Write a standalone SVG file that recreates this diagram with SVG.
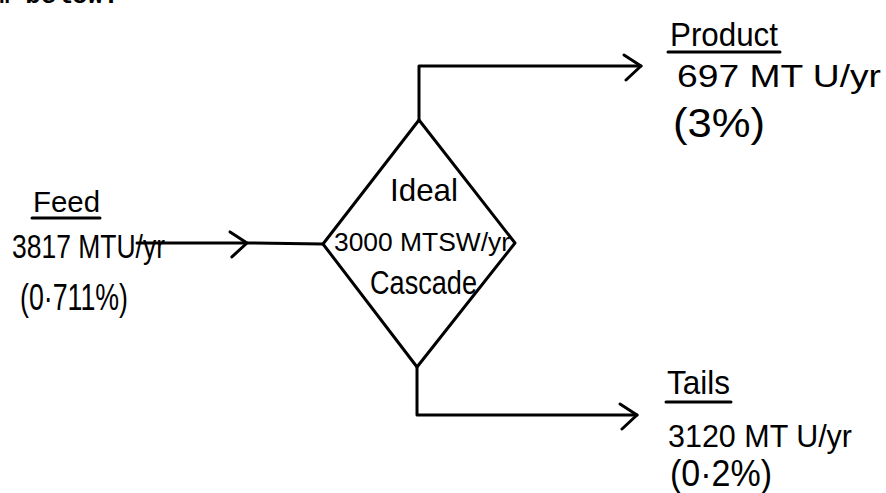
<svg xmlns="http://www.w3.org/2000/svg" width="886" height="493" viewBox="0 0 886 493">
<style>
  .ln { fill: none; stroke: #000; stroke-width: 3; stroke-linecap: round; stroke-linejoin: round; }
  .t { font-family: "Liberation Sans", "DejaVu Sans", sans-serif; fill: #000; }
  .tw { font-family: "Liberation Mono", monospace; font-weight: bold; fill: #000; }
</style>
<defs>
  <marker id="chev" viewBox="-20 -16 24 32" markerWidth="24" markerHeight="32" refX="0" refY="0" orient="auto" markerUnits="userSpaceOnUse">
    <path d="M-17,-11 L0,0 L-15,14" fill="none" stroke="#000" stroke-width="3" stroke-linecap="round" stroke-linejoin="round"/>
  </marker>
</defs>
<rect width="886" height="493" fill="#fff"/>
<text class="tw" x="-6" y="3" font-size="26">m below.</text>

<g id="connectors">
  <polyline class="ln" points="137,243 247,243 323,244" marker-mid="url(#chev)"/>
  <polyline class="ln" points="419,120 419,66 641,66" marker-end="url(#chev)"/>
  <polyline class="ln" points="417,367 417,415 637,415" marker-end="url(#chev)"/>
</g>

<g id="cascade">
  <polygon class="ln" points="419,120 515,243 417,367 323,244"/>
  <text class="t" x="390" y="201" font-size="32" textLength="68" lengthAdjust="spacingAndGlyphs">Ideal</text>
  <text class="t" x="334" y="251" font-size="26" textLength="176" lengthAdjust="spacingAndGlyphs">3000 MTSW/yr</text>
  <text class="t" x="370" y="294" font-size="34" textLength="107" lengthAdjust="spacingAndGlyphs">Cascade</text>
</g>

<g id="feed">
  <text class="t" x="33" y="212" font-size="30" textLength="67" lengthAdjust="spacingAndGlyphs">Feed</text>
  <line class="ln" x1="32" y1="218" x2="100" y2="218" stroke-width="2.5"/>
  <text class="t" x="12" y="258" font-size="33" textLength="153" lengthAdjust="spacingAndGlyphs">3817 MTU/yr</text>
  <text class="t" x="20" y="310" font-size="36" textLength="108" lengthAdjust="spacingAndGlyphs">(0·711%)</text>
</g>

<g id="product">
  <text class="t" x="670" y="46" font-size="34" textLength="108" lengthAdjust="spacingAndGlyphs">Product</text>
  <line class="ln" x1="668" y1="52" x2="780" y2="52" stroke-width="2.5"/>
  <text class="t" x="677" y="87" font-size="32" textLength="204" lengthAdjust="spacingAndGlyphs">697 MT U/yr</text>
  <text class="t" x="673" y="137" font-size="40" textLength="92" lengthAdjust="spacingAndGlyphs">(3%)</text>
</g>

<g id="tails">
  <text class="t" x="667" y="394" font-size="34" textLength="63" lengthAdjust="spacingAndGlyphs">Tails</text>
  <line class="ln" x1="666" y1="402" x2="731" y2="402" stroke-width="2.5"/>
  <text class="t" x="668" y="447" font-size="32" textLength="184" lengthAdjust="spacingAndGlyphs">3120 MT U/yr</text>
  <text class="t" x="670" y="486" font-size="36" textLength="102" lengthAdjust="spacingAndGlyphs">(0·2%)</text>
</g>
</svg>
